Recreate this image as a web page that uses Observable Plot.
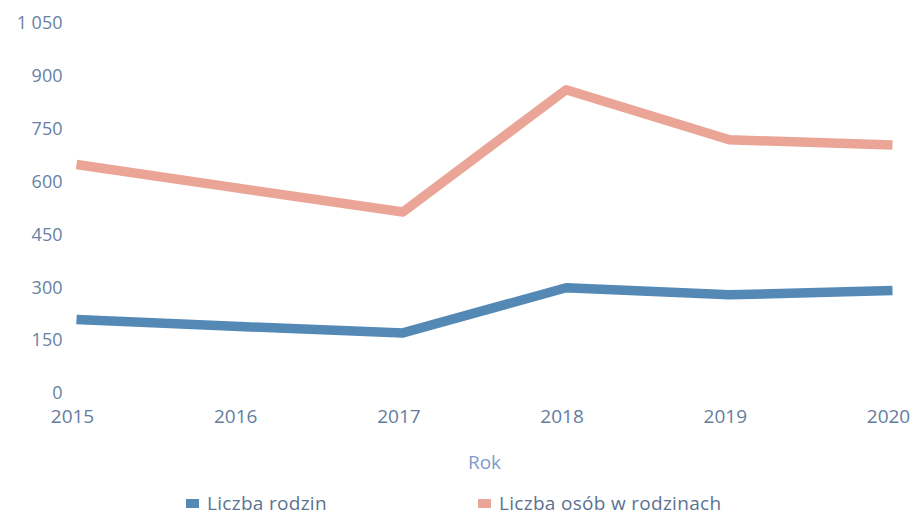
<!DOCTYPE html>
<html>
<head>
<meta charset="utf-8">
<script src="https://cdn.jsdelivr.net/npm/d3@7"></script>
<script src="https://cdn.jsdelivr.net/npm/@observablehq/plot@0.6"></script>
<style>
  html, body { margin: 0; padding: 0; background: #ffffff; }
  #chart { width: 917px; height: 517px; position: relative; font-family: "Open Sans", sans-serif; }
  #legend { position: absolute; left: 0; top: 489px; width: 917px; height: 28px; font-size: 19px; letter-spacing: 0.3px; color: #5b7391; }
  .item { position: absolute; top: 0; display: flex; align-items: center; height: 28px; }
  .sw { width: 13px; height: 9px; margin-right: 8px; }
</style>
</head>
<body>
<div id="chart"></div>
<script>
// Data
const years = [2015, 2016, 2017, 2018, 2019, 2020];
const liczbaRodzin = [210, 190, 172, 300, 280, 292];
const liczbaOsob = [650, 582, 515, 862, 720, 705];
const seriesNames = ["Liczba rodzin", "Liczba osób w rodzinach"];
const seriesColors = ["#5489b5", "#eaa596"];
const yTicks = [0, 150, 300, 450, 600, 750, 900, 1050];
const xLabel = "Rok";

const rows = [];
years.forEach((yr, i) => {
  rows.push({ year: yr, value: liczbaRodzin[i], series: seriesNames[0] });
  rows.push({ year: yr, value: liczbaOsob[i], series: seriesNames[1] });
});

const fmt = v => d3.format(",")(v).replace(/,/g, " ");

const plot = Plot.plot({
  width: 917,
  height: 482,
  marginTop: 23,
  marginBottom: 89,
  marginLeft: 76,
  marginRight: 25,
  style: { fontFamily: "Open Sans, sans-serif", background: "transparent", overflow: "visible" },
  x: { domain: [2015, 2020], label: null },
  y: { domain: [0, 1050], label: null },
  color: { domain: seriesNames, range: seriesColors },
  marks: [
    Plot.axisY({ ticks: yTicks, tickFormat: fmt, tickSize: 0, tickPadding: 14, fontSize: 18, fill: "#6882a3", label: null }),
    Plot.axisX({ ticks: years, tickFormat: d3.format("d"), tickSize: 0, tickPadding: 16, fontSize: 19, fill: "#637d9e", dx: -4, label: null }),
    Plot.lineY(rows, { x: "year", y: "value", stroke: "series", z: "series", strokeWidth: 9.5, strokeLinecap: "butt", strokeLinejoin: "round" }),
    Plot.text([xLabel], { text: d => d, frameAnchor: "bottom", dy: 69, fontSize: 19, fill: "#7f9bcb", lineAnchor: "middle" })
  ]
});

const chart = document.getElementById("chart");
chart.appendChild(plot);

const legend = document.createElement("div");
legend.id = "legend";
const lefts = [186, 478];
seriesNames.forEach((name, i) => {
  const it = document.createElement("div");
  it.className = "item";
  it.style.left = lefts[i] + "px";
  const sw = document.createElement("span");
  sw.className = "sw";
  sw.style.background = seriesColors[i];
  const tx = document.createElement("span");
  tx.textContent = name;
  it.appendChild(sw);
  it.appendChild(tx);
  legend.appendChild(it);
});
chart.appendChild(legend);
</script>
</body>
</html>
